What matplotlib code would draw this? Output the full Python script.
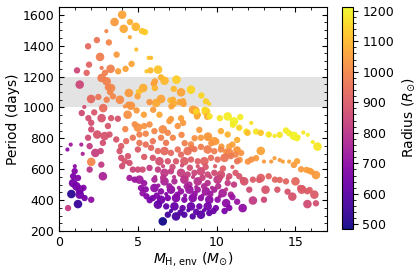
import matplotlib
matplotlib.use("Agg")
import matplotlib.pyplot as plt
from matplotlib.ticker import MultipleLocator
import numpy as np

# ---------------- data ----------------
# upper arc (orange / yellow), x = M_H,env, p = period, r = radius, w = size class
arc_m = [4.0, 3.52, 4.5, 4.1, 4.87, 5.27, 5.45, 3.0, 4.49, 2.4, 3.16, 1.84, 4.9, 2.6, 3.65, 5.68,
         1.9, 2.7, 3.27, 4.22, 1.14, 1.75, 2.7, 3.02, 3.3, 3.1, 3.23, 1.31, 4.43, 5.06, 3.42, 2.03,
         2.49, 3.02, 3.86, 4.4, 1.6, 2.23, 2.8, 4.35, 4.92, 5.38, 5.84, 5.8, 6.28, 6.47, 6.69, 7.45,
         6.01, 8.37, 7.74, 9.03, 6.08, 6.47, 7.07, 9.32, 7.28, 7.64, 7.9, 9.53, 6.16, 5.74, 8.65, 9.32,
         6.37, 7.1, 8.75, 9.4, 4.6, 5.55, 3.75, 2.91, 6.08, 5.34, 7.23, 7.87, 8.5, 5.97, 7.13, 4.56,
         4.98, 4.18, 8.8, 7.28]
arc_p = [1600, 1553, 1553, 1509, 1522, 1494, 1488, 1494, 1455, 1436, 1421, 1396, 1375, 1327, 1342, 1321,
         1277, 1256, 1250, 1250, 1240, 1224, 1191, 1169, 1126, 1130, 1100, 1148, 1094, 1100, 1072, 1055,
         1068, 1050, 1050, 1018, 1003, 968, 996, 953, 981, 953, 1321, 1240, 1245, 1195, 1173, 1180,
         1154, 1115, 1098, 1078, 1169, 1055, 1046, 1040, 1023, 1035, 1023, 1023, 1029, 1035, 979, 974,
         953, 925, 942, 940, 1282, 1234, 1234, 1224, 1126, 1126, 1050, 1040, 985, 985, 1007, 1011,
         1072, 1007, 953, 1120]
arc_r = [1060, 1040, 1080, 1070, 1090, 1120, 1130, 1000, 1070, 960, 1000, 930, 1110, 980, 1040, 1120,
         920, 960, 990, 1060, 850, 920, 980, 990, 1000, 990, 1000, 850, 1040, 1120, 1000, 930,
         960, 990, 1010, 1020, 870, 890, 940, 1020, 1040, 1060, 1100, 1100, 1120, 1090, 1100, 1140,
         1040, 1150, 1060, 1150, 1060, 1060, 1100, 1140, 1080, 1060, 1050, 1150, 1070, 1030, 1060, 1130,
         1070, 1040, 1060, 1070, 1060, 1120, 1050, 990, 1090, 1080, 1080, 1060, 1060, 1040, 1060, 1030,
         1060, 1020, 1070, 1100]
arc_w = [3, 3, 2, 3, 3, 2, 2, 1, 1, 2, 2, 2, 1, 3, 2, 1,
         2, 1, 3, 2, 2, 2, 3, 3, 3, 2, 2, 3, 3, 2, 2, 3,
         2, 2, 3, 2, 1, 2, 3, 3, 2, 2, 1, 2, 3, 2, 3, 3,
         2, 3, 3, 2, 2, 3, 2, 2, 2, 2, 2, 1, 3, 2, 3, 3,
         2, 2, 2, 2, 2, 1, 2, 2, 2, 3, 2, 2, 3, 2, 2, 3,
         2, 1, 2, 2]

# top yellow track
top_m = [8.7, 9.24, 9.55, 10.2, 10.7, 11.1, 11.03, 11.5, 11.88, 12.2, 12.5, 13.35, 13.67, 14.0, 14.4,
         14.6, 14.9, 15.1, 15.5, 15.78, 16.1, 16.4, 11.43, 11.96, 12.8, 13.3, 15.2]
top_p = [974, 985, 942, 931, 942, 910, 888, 938, 844, 900, 844, 823, 816, 823, 851,
         834, 816, 801, 838, 823, 776, 747, 869, 836, 836, 825, 810]
top_r = [1150, 1160, 1170, 1180, 1190, 1200, 1190, 1190, 1190, 1170, 1180, 1170, 1180, 1180, 1190,
         1190, 1200, 1200, 1180, 1200, 1190, 1180, 1150, 1110, 1120, 1180, 1190]
top_w = [2, 2, 2, 2, 3, 3, 2, 2, 2, 1, 2, 1, 1, 2, 2,
         2, 3, 2, 1, 1, 1, 3, 2, 2, 2, 2, 1]

# orange track (right side)
orn_m = [11.33, 11.55, 11.46, 11.98, 12.5, 12.8, 13.0, 13.46, 13.67, 14.2, 14.6, 14.9, 15.1, 15.36,
         15.7, 15.9, 16.0, 16.3, 12.2, 14.0]
orn_p = [728, 706, 661, 650, 672, 719, 650, 650, 672, 650, 650, 628, 652, 600,
         596, 590, 585, 563, 663, 660]
orn_r = [1040, 1030, 1030, 1030, 1040, 1060, 1040, 1040, 1050, 1050, 1050, 1040, 1060, 1040,
         1050, 1045, 1050, 1040, 1020, 1040]
orn_w = [2, 2, 2, 2, 2, 3, 1, 1, 1, 1, 1, 2, 2, 2,
         2, 2, 2, 3, 2, 1]

# pink track (right side)
pnk_m = [11.43, 11.75, 12.3, 12.8, 13.3, 13.7, 14.0, 14.4, 15.0, 15.3, 15.45, 15.75, 15.9, 16.2,
         12.07, 13.1, 13.85, 15.4, 12.3, 13.0, 15.76, 16.3, 14.5, 14.8, 11.66, 12.7]
pnk_p = [555, 522, 533, 544, 555, 533, 531, 522, 522, 479, 477, 458, 466, 436,
         468, 468, 468, 468, 398, 403, 375, 380, 455, 423, 531, 531]
pnk_r = [880, 880, 900, 910, 920, 920, 920, 920, 930, 900, 910, 900, 910, 900,
         860, 880, 890, 900, 820, 850, 860, 870, 880, 880, 890, 900]
pnk_w = [2, 3, 2, 3, 2, 2, 2, 2, 3, 2, 2, 2, 2, 3,
         2, 3, 2, 3, 3, 2, 3, 2, 2, 3, 2, 2]

# left cluster (low masses)
lft_m = [0.74, 0.53, 1.41, 1.94, 2.3, 2.04, 1.94, 0.99, 0.89, 1.2, 0.89, 1.1, 1.31, 1.55, 0.78,
         1.31, 1.62, 2.04, 1.2, 0.57, 2.78, 2.68, 2.64, 1.84, 2.42, 2.89, 2.78, 3.2, 2.04, 2.04,
         3.1, 3.73, 1.86, 2.7, 3.3, 1.44, 1.0, 1.5]
lft_p = [760, 728, 760, 750, 706, 648, 598, 588, 555, 544, 511, 490, 468, 480, 440,
         436, 414, 403, 375, 349, 555, 630, 718, 804, 825, 815, 771, 825, 901, 858,
         880, 927, 931, 931, 931, 964, 620, 700]
lft_r = [740, 700, 760, 820, 830, 1000, 800, 680, 660, 670, 650, 650, 660, 670, 520,
         640, 650, 700, 540, 820, 760, 820, 840, 860, 880, 880, 870, 880, 870, 860,
         880, 880, 870, 880, 890, 860, 700, 760]
lft_w = [1, 1, 1, 2, 3, 3, 2, 2, 2, 2, 3, 3, 3, 2, 3,
         3, 2, 2, 3, 2, 3, 2, 2, 2, 3, 3, 2, 2, 2, 2,
         2, 2, 2, 3, 2, 2, 1, 1]

# middle-left block (x 3.6 - 5.6)
mdl_m = [3.63, 3.94, 4.26, 3.84, 3.94, 4.37, 4.16, 4.47, 4.68, 5.0, 5.3, 5.0, 4.68, 5.1, 5.1,
         4.8, 5.0, 5.4, 5.5, 5.5, 5.4, 4.47, 4.8, 5.1, 5.4, 5.2, 5.5, 5.3, 5.55, 5.75, 4.2, 4.0]
mdl_p = [793, 750, 782, 718, 674, 685, 652, 641, 598, 598, 598, 728, 804, 771, 825,
         891, 870, 880, 830, 760, 680, 544, 533, 533, 510, 479, 470, 445, 425, 400, 860, 620]
mdl_r = [880, 900, 930, 880, 870, 880, 880, 870, 840, 850, 860, 900, 960, 960, 990,
         1010, 1020, 1030, 1000, 950, 900, 740, 720, 740, 720, 700, 690, 700, 680, 660, 1000, 860]
mdl_w = [2, 2, 2, 2, 2, 2, 2, 2, 2, 2, 2, 2, 2, 2, 2,
         2, 3, 2, 2, 2, 2, 2, 2, 3, 2, 2, 2, 2, 2, 2, 2, 2]

# main cloud (x 5.6 - 11.5)
cld_m = [5.74, 6.58, 6.9, 7.0, 7.53, 7.74, 6.05, 6.47, 7.22, 6.79, 5.95, 8.37, 9.0, 9.43, 9.85,
         10.27, 10.7, 11.0, 11.3, 7.87, 7.77, 8.6, 8.9, 9.45, 9.66, 9.98, 10.3, 10.8, 11.25, 10.6,
         7.97, 8.4,
         5.84, 6.27, 6.69, 7.1, 7.53, 7.74, 8.16, 8.59, 9.0, 9.43, 9.85, 10.27, 10.8, 11.2,
         5.95, 6.37, 6.9, 7.42, 7.95, 8.37, 8.8, 9.22, 9.64, 10.06, 10.5, 10.9, 11.3,
         5.74, 6.27, 6.69, 7.1, 7.74, 8.16, 8.59, 9.0, 9.43, 9.85, 10.27, 10.8, 11.2,
         6.05, 6.69, 7.32, 7.95, 8.27, 8.8, 9.43, 10.06, 10.7, 11.1,
         6.05, 6.47, 7.1, 7.74, 8.27, 8.8, 9.32, 9.85, 10.38, 10.9,
         5.95, 6.47, 6.9, 7.42, 7.95, 8.48, 9.0, 9.53, 10.06, 10.6,
         6.27, 6.8, 7.32, 7.84, 8.37, 8.9, 9.43, 9.95,
         6.9, 7.42, 7.95, 8.48, 9.0, 9.53, 6.58,
         11.0, 11.65, 11.3, 10.8, 10.5,
         6.3, 7.0, 7.6, 8.1, 8.7, 9.2, 9.7, 10.1, 10.6,
         6.2, 6.8, 7.5, 8.0, 8.6, 9.1, 9.6, 10.2,
         7.1, 7.7, 8.2, 8.7, 9.2, 9.8,
         6.6, 7.2, 7.8, 8.3, 8.8, 9.3, 9.9, 10.4, 11.0,
         6.1, 6.6, 7.3, 8.0, 8.5, 9.1, 9.6, 10.2, 10.7]
cld_p = [890, 858, 836, 912, 880, 930, 847, 804, 804, 771, 782, 761, 804, 804, 782,
         847, 825, 760, 790, 900, 823, 801, 855, 812, 769, 780, 747, 747, 726, 715,
         769, 737,
         739, 718, 718, 706, 728, 695, 718, 730, 745, 728, 717, 728, 706, 695,
         674, 652, 652, 652, 652, 663, 652, 652, 674, 663, 674, 685, 652,
         609, 598, 577, 587, 577, 566, 577, 587, 566, 577, 566, 555, 577,
         533, 522, 522, 533, 501, 522, 511, 533, 511, 501,
         479, 457, 468, 457, 468, 468, 457, 468, 446, 436,
         414, 403, 414, 414, 403, 414, 414, 403, 403, 381,
         371, 360, 360, 349, 360, 360, 360, 349,
         306, 295, 306, 295, 306, 317, 263,
         420, 349, 390, 350, 330,
         495, 490, 480, 490, 485, 490, 480, 490, 470,
         430, 440, 435, 430, 440, 430, 440, 425,
         330, 320, 335, 325, 335, 330,
         620, 615, 625, 610, 620, 615, 620, 605, 615,
         550, 545, 550, 540, 550, 545, 550, 545, 540]
cld_r = [1020, 1010, 1000, 1040, 1030, 1050, 1000, 990, 1000, 970, 960, 1000, 1040, 1050, 1050,
         1080, 1090, 1060, 1080, 1040, 1000, 1020, 1040, 1040, 1030, 1040, 1040, 1050, 1040, 1030,
         990, 980,
         930, 930, 930, 930, 950, 930, 950, 960, 980, 980, 980, 1000, 1000, 1000,
         880, 870, 880, 890, 900, 910, 910, 920, 940, 940, 960, 970, 960,
         820, 820, 810, 820, 830, 830, 840, 850, 850, 860, 870, 870, 890,
         760, 760, 770, 780, 770, 790, 790, 810, 820, 820,
         700, 690, 700, 710, 720, 730, 730, 750, 750, 760,
         650, 650, 660, 670, 670, 680, 690, 690, 700, 700,
         620, 610, 620, 620, 630, 640, 650, 650,
         560, 570, 580, 590, 600, 610, 490,
         720, 700, 720, 680, 660,
         720, 730, 740, 750, 760, 770, 780, 790, 800,
         670, 680, 690, 700, 710, 720, 730, 740,
         580, 590, 600, 610, 620, 630,
         850, 860, 860, 870, 880, 890, 900, 910, 920,
         780, 790, 800, 810, 820, 830, 840, 850, 860]
cld_w = [2, 3, 2, 2, 2, 2, 2, 2, 2, 2, 2, 2, 2, 2, 3,
         2, 2, 2, 2, 2, 2, 2, 2, 3, 2, 2, 2, 2, 2, 2,
         2, 2,
         2, 2, 3, 2, 2, 2, 3, 2, 2, 3, 2, 2, 3, 2,
         2, 3, 2, 2, 3, 2, 2, 3, 2, 2, 3, 2, 2,
         2, 2, 3, 2, 3, 2, 2, 3, 2, 2, 3, 2, 2,
         2, 3, 2, 3, 2, 3, 2, 3, 2, 2,
         3, 2, 3, 2, 3, 2, 3, 2, 3, 2,
         2, 3, 2, 3, 2, 3, 2, 3, 2, 3,
         3, 2, 3, 2, 3, 2, 3, 2,
         2, 3, 2, 2, 3, 2, 3,
         2, 3, 2, 2, 2,
         1, 2, 1, 2, 1, 2, 1, 2, 1,
         2, 1, 2, 1, 2, 1, 2, 1,
         1, 2, 1, 2, 1, 2,
         1, 2, 1, 2, 1, 2, 1, 2, 1,
         1, 2, 1, 2, 1, 2, 1, 2, 1]

size_of_class = {1: 9, 2: 21, 3: 38}

# ---------------- plot ----------------
m = np.concatenate([arc_m, top_m, orn_m, pnk_m, lft_m, mdl_m, cld_m])
p = np.concatenate([arc_p, top_p, orn_p, pnk_p, lft_p, mdl_p, cld_p])
r = np.concatenate([arc_r, top_r, orn_r, pnk_r, lft_r, mdl_r, cld_r])
w = np.concatenate([arc_w, top_w, orn_w, pnk_w, lft_w, mdl_w, cld_w])
s = np.array([size_of_class[int(k)] for k in w])

fig = plt.figure(figsize=(4.16, 2.70), dpi=100)
ax = fig.add_axes([0.142, 0.144, 0.644, 0.830])
cax = fig.add_axes([0.822, 0.152, 0.026, 0.822])

ax.axhspan(1000, 1200, color='#e3e3e3', zorder=0, lw=0)
sc = ax.scatter(m, p, c=r, s=s, cmap='plasma', vmin=485, vmax=1212,
                edgecolors='none', alpha=0.95, zorder=2)

ax.set_xlim(0, 17)
ax.set_ylim(200, 1650)
ax.xaxis.set_major_locator(MultipleLocator(5))
ax.xaxis.set_minor_locator(MultipleLocator(1))
ax.yaxis.set_major_locator(MultipleLocator(200))
ax.yaxis.set_minor_locator(MultipleLocator(50))
ax.tick_params(which='both', direction='in', top=True, right=True, labelsize=9)
ax.tick_params(which='major', length=3.5, width=0.8)
ax.tick_params(which='minor', length=2, width=0.6)
ax.set_xlabel(r'$M_{\rm H,\,env}$ ($M_{\odot}$)', fontsize=10, labelpad=1)
ax.set_ylabel('Period (days)', fontsize=10, labelpad=2)

cb = fig.colorbar(sc, cax=cax)
cb.set_ticks([500, 600, 700, 800, 900, 1000, 1100, 1200])
cb.ax.yaxis.set_minor_locator(MultipleLocator(20))
cb.ax.tick_params(which='both', labelsize=9)
cb.ax.tick_params(which='minor', length=2)
cb.set_label(r'Radius ($R_{\odot}$)', fontsize=10)
cb.outline.set_linewidth(0.8)

fig.savefig('out.png', dpi=100)
